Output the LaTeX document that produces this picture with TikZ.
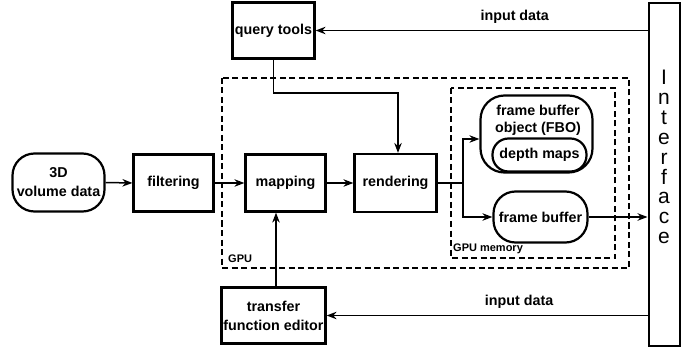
\documentclass[tikz,border=0pt]{standalone}
\usepackage{fontspec}
\setmainfont{Liberation Sans}
\usetikzlibrary{arrows.meta,calc}
\begin{document}
\begin{tikzpicture}[x=1pt,y=-1pt,
 box/.style={draw,line width=2.2pt,align=center,inner sep=0pt,font=\bfseries\fontsize{14.3}{19}\selectfont},
 rbox/.style={box,rounded corners=22pt},
 conn/.style={line width=1.5pt,-{Stealth[length=10pt,width=7.5pt]}},
 plain/.style={line width=1.5pt},
 gpubox/.style={line width=2.2pt,dash pattern=on 6pt off 3.5pt},
 lab/.style={font=\bfseries\fontsize{14.3}{16}\selectfont,inner sep=0pt},
 small/.style={font=\bfseries\fontsize{11}{12}\selectfont,inner sep=0pt,anchor=west}]
\useasboundingbox (0,0) rectangle (694,350);

% dashed regions
\draw[gpubox] (222,78) rectangle (629,268);
\draw[gpubox] (451,88) rectangle (615,258);
\node[small] (gpulab) at (228,259) {GPU};
\node[small] (memlab) at (453,249) {GPU memory};

% nodes
\node[rbox,minimum width=92pt,minimum height=58pt] (vol) at (58.5,182.5) {3D\\volume data};
\node[box,minimum width=80pt,minimum height=57pt] (filt) at (173.5,183) {filtering};
\node[box,minimum width=80pt,minimum height=57pt] (map) at (285.5,183) {mapping};
\node[box,minimum width=82pt,minimum height=58pt] (rend) at (395.5,183) {rendering};
\node[box,minimum width=82pt,minimum height=56pt] (query) at (273.5,30.5) {query tools};
\node[box,minimum width=104pt,minimum height=56pt] (tfe) at (273.5,315.5) {transfer\\function editor};
\node[draw,line width=2pt,minimum width=31pt,minimum height=342pt,inner sep=0pt] (iface) at (664,174.5) {};
\node[align=center,inner sep=0pt,font=\fontsize{21}{19.9}\selectfont] (ifacetxt) at (664,157) {I\\n\\t\\e\\r\\f\\a\\c\\e};

\node[box,rounded corners=24pt,minimum width=112pt,minimum height=77pt] (fbo) at (536.5,134) {};
\node[lab,align=center,font=\bfseries\fontsize{14.3}{17}\selectfont] (fbotxt) at (538,120) {frame buffer\\object (FBO)};
\node[box,rounded corners=16pt,minimum width=94pt,minimum height=33pt] (depth) at (539.5,155) {depth maps};
\node[rbox,minimum width=94pt,minimum height=51pt] (fb) at (540.5,217) {frame buffer};

% connectors
\draw[conn] (vol.east) -- (filt.west);
\draw[conn] (filt.east) -- (map.west);
\draw[conn] (map.east) -- (rend.west);
\coordinate (qbend) at (398,93);
\draw[conn] (query.south) |- (qbend) -- (qbend |- rend.north);
\coordinate (br) at (463,183);
\draw[plain] (rend.east) -- (br);
\draw[conn] (br) |- ($(fbo.west)+(0,5)$);
\draw[conn] (br) |- (fb.west);
\draw[conn] (fb.east) -- (fb.east -| iface.west);
\draw[conn] (query.east -| iface.west) -- node[lab,above=6pt,pos=0.4] (in1) {input data} (query.east);
\draw[conn] (tfe.east -| iface.west) -- node[lab,above=6pt,pos=0.4] (in2) {input data} (tfe.east);
\draw[conn] ([xshift=2.5pt]tfe.north) -- ([xshift=2.5pt]tfe.north |- map.south);
\end{tikzpicture}
\end{document}
